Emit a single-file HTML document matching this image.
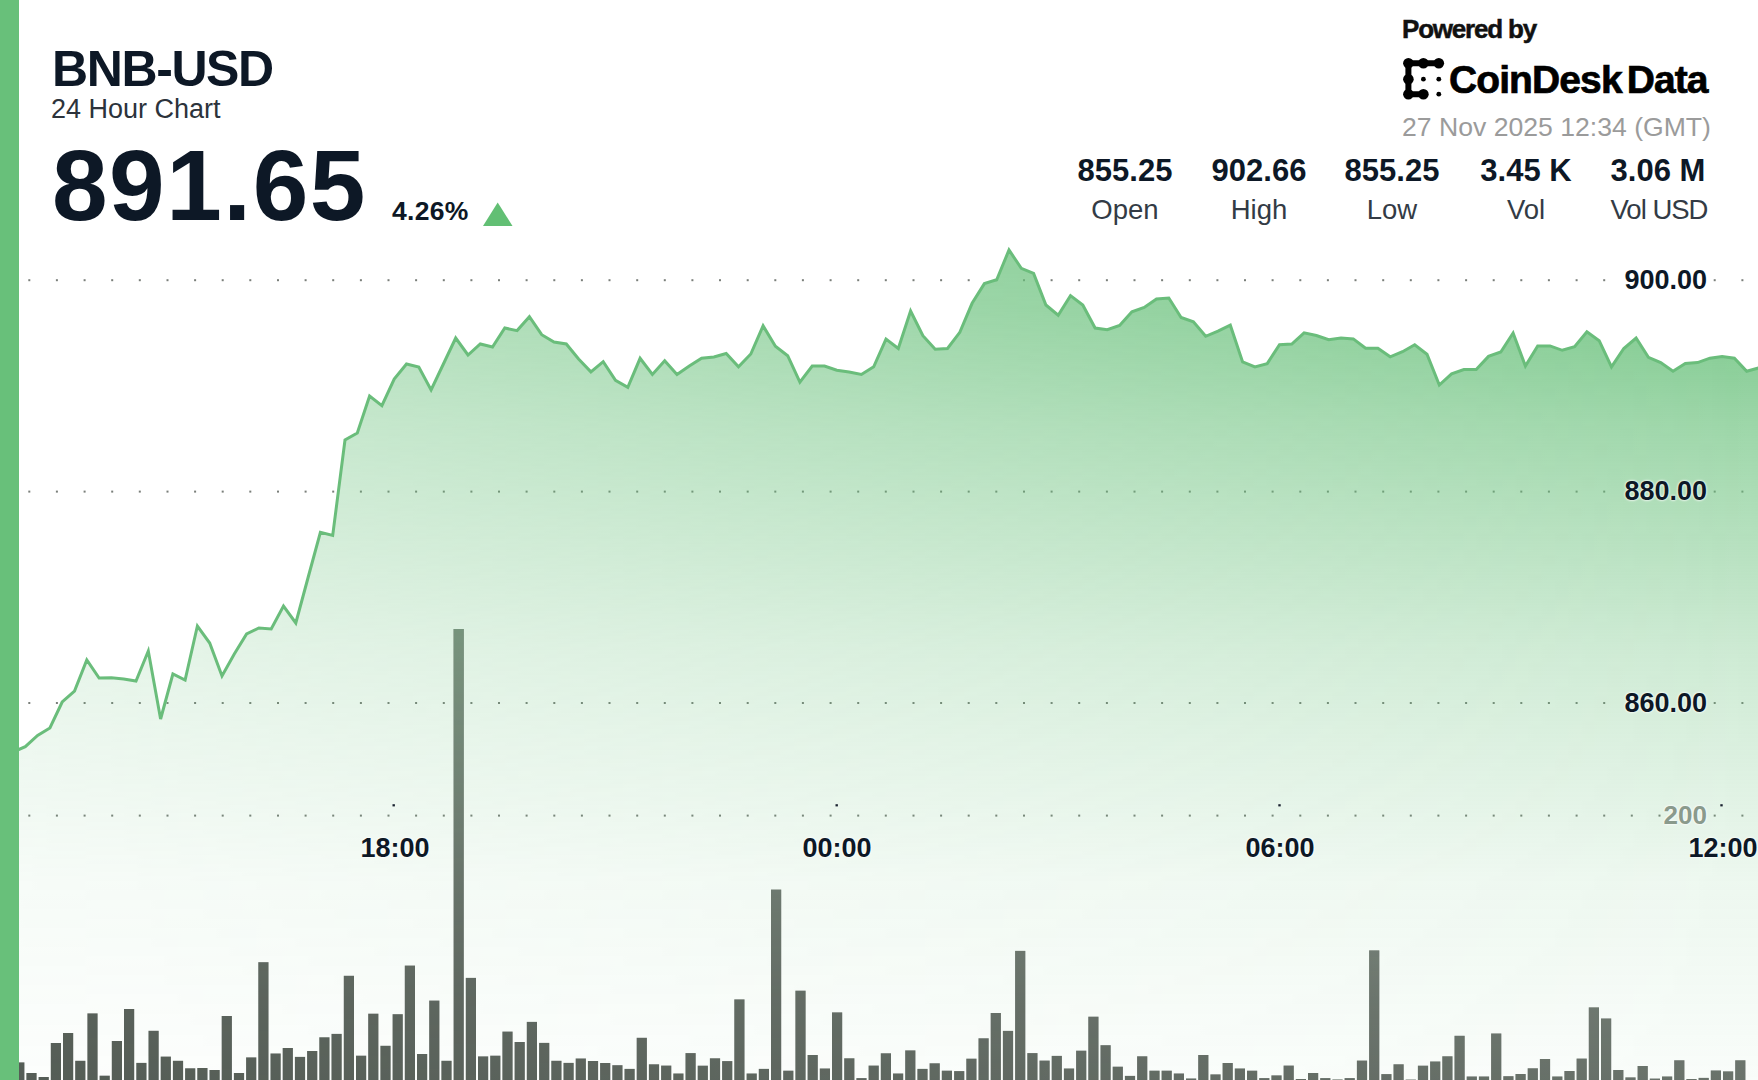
<!DOCTYPE html>
<html><head><meta charset="utf-8">
<style>
html,body{margin:0;padding:0;}
body{width:1758px;height:1080px;overflow:hidden;background:#fff;position:relative;font-family:"Liberation Sans",sans-serif;color:#0d1826;}
.t{position:absolute;white-space:nowrap;line-height:1;}
.b{font-weight:bold;}
#bar{position:absolute;left:0;top:0;width:19px;height:1080px;background:#68c07a;}
svg{position:absolute;left:0;top:0;}
.yl{text-shadow:0 0 2px #fff,0 0 3px #fff;position:absolute;font-weight:bold;font-size:27px;line-height:1;white-space:nowrap;color:#0d1826;text-align:right;}
.xl{text-shadow:0 0 2px #fff,0 0 3px #fff;position:absolute;font-weight:bold;font-size:27px;line-height:1;white-space:nowrap;color:#0d1826;text-align:center;width:100px;}
.st{position:absolute;text-align:center;width:130px;line-height:1;white-space:nowrap;}
.sv{font-weight:bold;font-size:31px;color:#0d1826;}
.sl{font-size:27.5px;color:#333b45;}
</style></head><body>
<svg width="1758" height="1080" viewBox="0 0 1758 1080">
<defs>
<linearGradient id="ag" x1="0" y1="250" x2="0" y2="1080" gradientUnits="userSpaceOnUse">
<stop offset="0" stop-color="#68c07a" stop-opacity="0.92"/>
<stop offset="0.072" stop-color="#68c07a" stop-opacity="0.86"/>
<stop offset="0.217" stop-color="#68c07a" stop-opacity="0.645"/>
<stop offset="0.482" stop-color="#68c07a" stop-opacity="0.335"/>
<stop offset="0.759" stop-color="#68c07a" stop-opacity="0.12"/>
<stop offset="0.904" stop-color="#68c07a" stop-opacity="0.07"/>
<stop offset="1" stop-color="#68c07a" stop-opacity="0.04"/>
</linearGradient>
<linearGradient id="hg" x1="18" y1="0" x2="1758" y2="0" gradientUnits="userSpaceOnUse">
<stop offset="0" stop-color="#fff" stop-opacity="0.48"/>
<stop offset="1" stop-color="#fff" stop-opacity="1"/>
</linearGradient>
<mask id="hm" maskUnits="userSpaceOnUse" x="0" y="0" width="1758" height="1080"><rect x="0" y="0" width="1758" height="1080" fill="url(#hg)"/></mask>
<linearGradient id="veil" x1="0" y1="620" x2="0" y2="1080" gradientUnits="userSpaceOnUse">
<stop offset="0" stop-color="#aadcb4" stop-opacity="0.85"/>
<stop offset="0.609" stop-color="#d7eedc" stop-opacity="0.41"/>
<stop offset="0.826" stop-color="#e2f2e5" stop-opacity="0.30"/>
<stop offset="1" stop-color="#e6f5e8" stop-opacity="0.25"/>
</linearGradient>
<clipPath id="barclip"><rect x="14.2" y="1062.4" width="10.2" height="17.6"/><rect x="26.4" y="1073.0" width="10.2" height="7.0"/><rect x="38.6" y="1077.0" width="10.2" height="3.0"/><rect x="50.8" y="1043.0" width="10.2" height="37.0"/><rect x="63.0" y="1033.0" width="10.2" height="47.0"/><rect x="75.2" y="1060.8" width="10.2" height="19.2"/><rect x="87.4" y="1013.4" width="10.2" height="66.6"/><rect x="99.6" y="1075.7" width="10.2" height="4.3"/><rect x="111.8" y="1041.0" width="10.2" height="39.0"/><rect x="124.0" y="1009.0" width="10.2" height="71.0"/><rect x="136.3" y="1062.9" width="10.2" height="17.1"/><rect x="148.5" y="1030.8" width="10.2" height="49.2"/><rect x="160.7" y="1056.6" width="10.2" height="23.4"/><rect x="172.9" y="1060.8" width="10.2" height="19.2"/><rect x="185.1" y="1068.3" width="10.2" height="11.7"/><rect x="197.3" y="1068.0" width="10.2" height="12.0"/><rect x="209.5" y="1070.0" width="10.2" height="10.0"/><rect x="221.7" y="1016.0" width="10.2" height="64.0"/><rect x="233.9" y="1073.0" width="10.2" height="7.0"/><rect x="246.1" y="1057.4" width="10.2" height="22.6"/><rect x="258.3" y="962.2" width="10.2" height="117.8"/><rect x="270.5" y="1053.5" width="10.2" height="26.5"/><rect x="282.7" y="1048.0" width="10.2" height="32.0"/><rect x="294.9" y="1056.9" width="10.2" height="23.1"/><rect x="307.1" y="1051.0" width="10.2" height="29.0"/><rect x="319.3" y="1037.3" width="10.2" height="42.7"/><rect x="331.5" y="1033.9" width="10.2" height="46.1"/><rect x="343.8" y="975.8" width="10.2" height="104.2"/><rect x="356.0" y="1055.7" width="10.2" height="24.3"/><rect x="368.2" y="1013.7" width="10.2" height="66.3"/><rect x="380.4" y="1045.8" width="10.2" height="34.2"/><rect x="392.6" y="1014.2" width="10.2" height="65.8"/><rect x="404.8" y="965.6" width="10.2" height="114.4"/><rect x="417.0" y="1054.0" width="10.2" height="26.0"/><rect x="429.2" y="1000.6" width="10.2" height="79.4"/><rect x="441.4" y="1060.8" width="10.2" height="19.2"/><rect x="453.6" y="629.0" width="10.2" height="451.0"/><rect x="465.8" y="977.9" width="10.2" height="102.1"/><rect x="478.0" y="1056.4" width="10.2" height="23.6"/><rect x="490.2" y="1055.7" width="10.2" height="24.3"/><rect x="502.4" y="1031.6" width="10.2" height="48.4"/><rect x="514.6" y="1042.0" width="10.2" height="38.0"/><rect x="526.8" y="1021.9" width="10.2" height="58.1"/><rect x="539.1" y="1042.9" width="10.2" height="37.1"/><rect x="551.3" y="1060.8" width="10.2" height="19.2"/><rect x="563.5" y="1062.9" width="10.2" height="17.1"/><rect x="575.7" y="1058.5" width="10.2" height="21.5"/><rect x="587.9" y="1061.0" width="10.2" height="19.0"/><rect x="600.1" y="1063.0" width="10.2" height="17.0"/><rect x="612.3" y="1065.2" width="10.2" height="14.8"/><rect x="624.5" y="1068.9" width="10.2" height="11.1"/><rect x="636.7" y="1037.8" width="10.2" height="42.2"/><rect x="648.9" y="1064.3" width="10.2" height="15.7"/><rect x="661.1" y="1065.6" width="10.2" height="14.4"/><rect x="673.3" y="1073.5" width="10.2" height="6.5"/><rect x="685.5" y="1053.1" width="10.2" height="26.9"/><rect x="697.7" y="1065.7" width="10.2" height="14.3"/><rect x="709.9" y="1058.3" width="10.2" height="21.7"/><rect x="722.1" y="1061.1" width="10.2" height="18.9"/><rect x="734.3" y="999.4" width="10.2" height="80.6"/><rect x="746.6" y="1073.5" width="10.2" height="6.5"/><rect x="758.8" y="1068.9" width="10.2" height="11.1"/><rect x="771.0" y="889.6" width="10.2" height="190.4"/><rect x="783.2" y="1070.7" width="10.2" height="9.3"/><rect x="795.4" y="990.7" width="10.2" height="89.3"/><rect x="807.6" y="1055.0" width="10.2" height="25.0"/><rect x="819.8" y="1068.5" width="10.2" height="11.5"/><rect x="832.0" y="1012.4" width="10.2" height="67.6"/><rect x="844.2" y="1058.3" width="10.2" height="21.7"/><rect x="856.4" y="1078.1" width="10.2" height="1.9"/><rect x="868.6" y="1065.6" width="10.2" height="14.4"/><rect x="880.8" y="1053.3" width="10.2" height="26.7"/><rect x="893.0" y="1073.5" width="10.2" height="6.5"/><rect x="905.2" y="1050.4" width="10.2" height="29.6"/><rect x="917.4" y="1068.9" width="10.2" height="11.1"/><rect x="929.6" y="1063.3" width="10.2" height="16.7"/><rect x="941.8" y="1070.7" width="10.2" height="9.3"/><rect x="954.1" y="1071.1" width="10.2" height="8.9"/><rect x="966.3" y="1058.7" width="10.2" height="21.3"/><rect x="978.5" y="1038.3" width="10.2" height="41.7"/><rect x="990.7" y="1013.0" width="10.2" height="67.0"/><rect x="1002.9" y="1030.9" width="10.2" height="49.1"/><rect x="1015.1" y="950.9" width="10.2" height="129.1"/><rect x="1027.3" y="1053.1" width="10.2" height="26.9"/><rect x="1039.5" y="1060.6" width="10.2" height="19.4"/><rect x="1051.7" y="1055.9" width="10.2" height="24.1"/><rect x="1063.9" y="1068.5" width="10.2" height="11.5"/><rect x="1076.1" y="1050.7" width="10.2" height="29.3"/><rect x="1088.3" y="1016.7" width="10.2" height="63.3"/><rect x="1100.5" y="1045.2" width="10.2" height="34.8"/><rect x="1112.7" y="1066.7" width="10.2" height="13.3"/><rect x="1124.9" y="1075.9" width="10.2" height="4.1"/><rect x="1137.1" y="1056.3" width="10.2" height="23.7"/><rect x="1149.4" y="1070.7" width="10.2" height="9.3"/><rect x="1161.6" y="1070.7" width="10.2" height="9.3"/><rect x="1173.8" y="1073.5" width="10.2" height="6.5"/><rect x="1186.0" y="1078.5" width="10.2" height="1.5"/><rect x="1198.2" y="1055.0" width="10.2" height="25.0"/><rect x="1210.4" y="1074.4" width="10.2" height="5.6"/><rect x="1222.6" y="1063.0" width="10.2" height="17.0"/><rect x="1234.8" y="1068.5" width="10.2" height="11.5"/><rect x="1247.0" y="1070.7" width="10.2" height="9.3"/><rect x="1259.2" y="1078.1" width="10.2" height="1.9"/><rect x="1271.4" y="1075.4" width="10.2" height="4.6"/><rect x="1283.6" y="1065.6" width="10.2" height="14.4"/><rect x="1295.8" y="1079.0" width="10.2" height="1.0"/><rect x="1308.0" y="1073.0" width="10.2" height="7.0"/><rect x="1320.2" y="1078.1" width="10.2" height="1.9"/><rect x="1332.4" y="1079.5" width="10.2" height="0.5"/><rect x="1344.6" y="1078.1" width="10.2" height="1.9"/><rect x="1356.9" y="1060.6" width="10.2" height="19.4"/><rect x="1369.1" y="950.4" width="10.2" height="129.6"/><rect x="1381.3" y="1074.1" width="10.2" height="5.9"/><rect x="1393.5" y="1064.3" width="10.2" height="15.7"/><rect x="1405.7" y="1079.6" width="10.2" height="0.4"/><rect x="1417.9" y="1065.7" width="10.2" height="14.3"/><rect x="1430.1" y="1061.5" width="10.2" height="18.5"/><rect x="1442.3" y="1056.3" width="10.2" height="23.7"/><rect x="1454.5" y="1035.8" width="10.2" height="44.2"/><rect x="1466.7" y="1076.5" width="10.2" height="3.5"/><rect x="1478.9" y="1076.5" width="10.2" height="3.5"/><rect x="1491.1" y="1033.5" width="10.2" height="46.5"/><rect x="1503.3" y="1076.2" width="10.2" height="3.8"/><rect x="1515.5" y="1074.0" width="10.2" height="6.0"/><rect x="1527.7" y="1068.3" width="10.2" height="11.7"/><rect x="1539.9" y="1059.0" width="10.2" height="21.0"/><rect x="1552.2" y="1076.5" width="10.2" height="3.5"/><rect x="1564.4" y="1071.0" width="10.2" height="9.0"/><rect x="1576.6" y="1058.6" width="10.2" height="21.4"/><rect x="1588.8" y="1007.4" width="10.2" height="72.6"/><rect x="1601.0" y="1018.5" width="10.2" height="61.5"/><rect x="1613.2" y="1070.0" width="10.2" height="10.0"/><rect x="1625.4" y="1077.4" width="10.2" height="2.6"/><rect x="1637.6" y="1066.0" width="10.2" height="14.0"/><rect x="1649.8" y="1078.6" width="10.2" height="1.4"/><rect x="1662.0" y="1076.5" width="10.2" height="3.5"/><rect x="1674.2" y="1060.3" width="10.2" height="19.7"/><rect x="1686.4" y="1079.0" width="10.2" height="1.0"/><rect x="1698.6" y="1077.9" width="10.2" height="2.1"/><rect x="1710.8" y="1070.5" width="10.2" height="9.5"/><rect x="1723.0" y="1071.4" width="10.2" height="8.6"/><rect x="1735.2" y="1060.3" width="10.2" height="19.7"/></clipPath>
</defs>
<g fill="#7a7f7a"><rect x="28.3" y="279.2" width="2" height="2"/><rect x="55.9" y="279.2" width="2" height="2"/><rect x="83.6" y="279.2" width="2" height="2"/><rect x="111.2" y="279.2" width="2" height="2"/><rect x="138.8" y="279.2" width="2" height="2"/><rect x="166.5" y="279.2" width="2" height="2"/><rect x="194.1" y="279.2" width="2" height="2"/><rect x="221.7" y="279.2" width="2" height="2"/><rect x="249.3" y="279.2" width="2" height="2"/><rect x="277.0" y="279.2" width="2" height="2"/><rect x="304.6" y="279.2" width="2" height="2"/><rect x="332.2" y="279.2" width="2" height="2"/><rect x="359.9" y="279.2" width="2" height="2"/><rect x="387.5" y="279.2" width="2" height="2"/><rect x="415.1" y="279.2" width="2" height="2"/><rect x="442.8" y="279.2" width="2" height="2"/><rect x="470.4" y="279.2" width="2" height="2"/><rect x="498.0" y="279.2" width="2" height="2"/><rect x="525.6" y="279.2" width="2" height="2"/><rect x="553.3" y="279.2" width="2" height="2"/><rect x="580.9" y="279.2" width="2" height="2"/><rect x="608.5" y="279.2" width="2" height="2"/><rect x="636.2" y="279.2" width="2" height="2"/><rect x="663.8" y="279.2" width="2" height="2"/><rect x="691.4" y="279.2" width="2" height="2"/><rect x="719.0" y="279.2" width="2" height="2"/><rect x="746.7" y="279.2" width="2" height="2"/><rect x="774.3" y="279.2" width="2" height="2"/><rect x="801.9" y="279.2" width="2" height="2"/><rect x="829.6" y="279.2" width="2" height="2"/><rect x="857.2" y="279.2" width="2" height="2"/><rect x="884.8" y="279.2" width="2" height="2"/><rect x="912.5" y="279.2" width="2" height="2"/><rect x="940.1" y="279.2" width="2" height="2"/><rect x="967.7" y="279.2" width="2" height="2"/><rect x="995.3" y="279.2" width="2" height="2"/><rect x="1023.0" y="279.2" width="2" height="2"/><rect x="1050.6" y="279.2" width="2" height="2"/><rect x="1078.2" y="279.2" width="2" height="2"/><rect x="1105.9" y="279.2" width="2" height="2"/><rect x="1133.5" y="279.2" width="2" height="2"/><rect x="1161.1" y="279.2" width="2" height="2"/><rect x="1188.8" y="279.2" width="2" height="2"/><rect x="1216.4" y="279.2" width="2" height="2"/><rect x="1244.0" y="279.2" width="2" height="2"/><rect x="1271.6" y="279.2" width="2" height="2"/><rect x="1299.3" y="279.2" width="2" height="2"/><rect x="1326.9" y="279.2" width="2" height="2"/><rect x="1354.5" y="279.2" width="2" height="2"/><rect x="1382.2" y="279.2" width="2" height="2"/><rect x="1409.8" y="279.2" width="2" height="2"/><rect x="1437.4" y="279.2" width="2" height="2"/><rect x="1465.1" y="279.2" width="2" height="2"/><rect x="1492.7" y="279.2" width="2" height="2"/><rect x="1520.3" y="279.2" width="2" height="2"/><rect x="1547.9" y="279.2" width="2" height="2"/><rect x="1575.6" y="279.2" width="2" height="2"/><rect x="1603.2" y="279.2" width="2" height="2"/><rect x="1713.7" y="279.2" width="2" height="2"/><rect x="1741.4" y="279.2" width="2" height="2"/><rect x="28.3" y="490.6" width="2" height="2"/><rect x="55.9" y="490.6" width="2" height="2"/><rect x="83.6" y="490.6" width="2" height="2"/><rect x="111.2" y="490.6" width="2" height="2"/><rect x="138.8" y="490.6" width="2" height="2"/><rect x="166.5" y="490.6" width="2" height="2"/><rect x="194.1" y="490.6" width="2" height="2"/><rect x="221.7" y="490.6" width="2" height="2"/><rect x="249.3" y="490.6" width="2" height="2"/><rect x="277.0" y="490.6" width="2" height="2"/><rect x="304.6" y="490.6" width="2" height="2"/><rect x="332.2" y="490.6" width="2" height="2"/><rect x="359.9" y="490.6" width="2" height="2"/><rect x="387.5" y="490.6" width="2" height="2"/><rect x="415.1" y="490.6" width="2" height="2"/><rect x="442.8" y="490.6" width="2" height="2"/><rect x="470.4" y="490.6" width="2" height="2"/><rect x="498.0" y="490.6" width="2" height="2"/><rect x="525.6" y="490.6" width="2" height="2"/><rect x="553.3" y="490.6" width="2" height="2"/><rect x="580.9" y="490.6" width="2" height="2"/><rect x="608.5" y="490.6" width="2" height="2"/><rect x="636.2" y="490.6" width="2" height="2"/><rect x="663.8" y="490.6" width="2" height="2"/><rect x="691.4" y="490.6" width="2" height="2"/><rect x="719.0" y="490.6" width="2" height="2"/><rect x="746.7" y="490.6" width="2" height="2"/><rect x="774.3" y="490.6" width="2" height="2"/><rect x="801.9" y="490.6" width="2" height="2"/><rect x="829.6" y="490.6" width="2" height="2"/><rect x="857.2" y="490.6" width="2" height="2"/><rect x="884.8" y="490.6" width="2" height="2"/><rect x="912.5" y="490.6" width="2" height="2"/><rect x="940.1" y="490.6" width="2" height="2"/><rect x="967.7" y="490.6" width="2" height="2"/><rect x="995.3" y="490.6" width="2" height="2"/><rect x="1023.0" y="490.6" width="2" height="2"/><rect x="1050.6" y="490.6" width="2" height="2"/><rect x="1078.2" y="490.6" width="2" height="2"/><rect x="1105.9" y="490.6" width="2" height="2"/><rect x="1133.5" y="490.6" width="2" height="2"/><rect x="1161.1" y="490.6" width="2" height="2"/><rect x="1188.8" y="490.6" width="2" height="2"/><rect x="1216.4" y="490.6" width="2" height="2"/><rect x="1244.0" y="490.6" width="2" height="2"/><rect x="1271.6" y="490.6" width="2" height="2"/><rect x="1299.3" y="490.6" width="2" height="2"/><rect x="1326.9" y="490.6" width="2" height="2"/><rect x="1354.5" y="490.6" width="2" height="2"/><rect x="1382.2" y="490.6" width="2" height="2"/><rect x="1409.8" y="490.6" width="2" height="2"/><rect x="1437.4" y="490.6" width="2" height="2"/><rect x="1465.1" y="490.6" width="2" height="2"/><rect x="1492.7" y="490.6" width="2" height="2"/><rect x="1520.3" y="490.6" width="2" height="2"/><rect x="1547.9" y="490.6" width="2" height="2"/><rect x="1575.6" y="490.6" width="2" height="2"/><rect x="1603.2" y="490.6" width="2" height="2"/><rect x="1713.7" y="490.6" width="2" height="2"/><rect x="1741.4" y="490.6" width="2" height="2"/><rect x="28.3" y="702.0" width="2" height="2"/><rect x="55.9" y="702.0" width="2" height="2"/><rect x="83.6" y="702.0" width="2" height="2"/><rect x="111.2" y="702.0" width="2" height="2"/><rect x="138.8" y="702.0" width="2" height="2"/><rect x="166.5" y="702.0" width="2" height="2"/><rect x="194.1" y="702.0" width="2" height="2"/><rect x="221.7" y="702.0" width="2" height="2"/><rect x="249.3" y="702.0" width="2" height="2"/><rect x="277.0" y="702.0" width="2" height="2"/><rect x="304.6" y="702.0" width="2" height="2"/><rect x="332.2" y="702.0" width="2" height="2"/><rect x="359.9" y="702.0" width="2" height="2"/><rect x="387.5" y="702.0" width="2" height="2"/><rect x="415.1" y="702.0" width="2" height="2"/><rect x="442.8" y="702.0" width="2" height="2"/><rect x="470.4" y="702.0" width="2" height="2"/><rect x="498.0" y="702.0" width="2" height="2"/><rect x="525.6" y="702.0" width="2" height="2"/><rect x="553.3" y="702.0" width="2" height="2"/><rect x="580.9" y="702.0" width="2" height="2"/><rect x="608.5" y="702.0" width="2" height="2"/><rect x="636.2" y="702.0" width="2" height="2"/><rect x="663.8" y="702.0" width="2" height="2"/><rect x="691.4" y="702.0" width="2" height="2"/><rect x="719.0" y="702.0" width="2" height="2"/><rect x="746.7" y="702.0" width="2" height="2"/><rect x="774.3" y="702.0" width="2" height="2"/><rect x="801.9" y="702.0" width="2" height="2"/><rect x="829.6" y="702.0" width="2" height="2"/><rect x="857.2" y="702.0" width="2" height="2"/><rect x="884.8" y="702.0" width="2" height="2"/><rect x="912.5" y="702.0" width="2" height="2"/><rect x="940.1" y="702.0" width="2" height="2"/><rect x="967.7" y="702.0" width="2" height="2"/><rect x="995.3" y="702.0" width="2" height="2"/><rect x="1023.0" y="702.0" width="2" height="2"/><rect x="1050.6" y="702.0" width="2" height="2"/><rect x="1078.2" y="702.0" width="2" height="2"/><rect x="1105.9" y="702.0" width="2" height="2"/><rect x="1133.5" y="702.0" width="2" height="2"/><rect x="1161.1" y="702.0" width="2" height="2"/><rect x="1188.8" y="702.0" width="2" height="2"/><rect x="1216.4" y="702.0" width="2" height="2"/><rect x="1244.0" y="702.0" width="2" height="2"/><rect x="1271.6" y="702.0" width="2" height="2"/><rect x="1299.3" y="702.0" width="2" height="2"/><rect x="1326.9" y="702.0" width="2" height="2"/><rect x="1354.5" y="702.0" width="2" height="2"/><rect x="1382.2" y="702.0" width="2" height="2"/><rect x="1409.8" y="702.0" width="2" height="2"/><rect x="1437.4" y="702.0" width="2" height="2"/><rect x="1465.1" y="702.0" width="2" height="2"/><rect x="1492.7" y="702.0" width="2" height="2"/><rect x="1520.3" y="702.0" width="2" height="2"/><rect x="1547.9" y="702.0" width="2" height="2"/><rect x="1575.6" y="702.0" width="2" height="2"/><rect x="1603.2" y="702.0" width="2" height="2"/><rect x="1713.7" y="702.0" width="2" height="2"/><rect x="1741.4" y="702.0" width="2" height="2"/><rect x="28.3" y="814.6" width="2" height="2"/><rect x="55.9" y="814.6" width="2" height="2"/><rect x="83.6" y="814.6" width="2" height="2"/><rect x="111.2" y="814.6" width="2" height="2"/><rect x="138.8" y="814.6" width="2" height="2"/><rect x="166.5" y="814.6" width="2" height="2"/><rect x="194.1" y="814.6" width="2" height="2"/><rect x="221.7" y="814.6" width="2" height="2"/><rect x="249.3" y="814.6" width="2" height="2"/><rect x="277.0" y="814.6" width="2" height="2"/><rect x="304.6" y="814.6" width="2" height="2"/><rect x="332.2" y="814.6" width="2" height="2"/><rect x="359.9" y="814.6" width="2" height="2"/><rect x="387.5" y="814.6" width="2" height="2"/><rect x="415.1" y="814.6" width="2" height="2"/><rect x="442.8" y="814.6" width="2" height="2"/><rect x="470.4" y="814.6" width="2" height="2"/><rect x="498.0" y="814.6" width="2" height="2"/><rect x="525.6" y="814.6" width="2" height="2"/><rect x="553.3" y="814.6" width="2" height="2"/><rect x="580.9" y="814.6" width="2" height="2"/><rect x="608.5" y="814.6" width="2" height="2"/><rect x="636.2" y="814.6" width="2" height="2"/><rect x="663.8" y="814.6" width="2" height="2"/><rect x="691.4" y="814.6" width="2" height="2"/><rect x="719.0" y="814.6" width="2" height="2"/><rect x="746.7" y="814.6" width="2" height="2"/><rect x="774.3" y="814.6" width="2" height="2"/><rect x="801.9" y="814.6" width="2" height="2"/><rect x="829.6" y="814.6" width="2" height="2"/><rect x="857.2" y="814.6" width="2" height="2"/><rect x="884.8" y="814.6" width="2" height="2"/><rect x="912.5" y="814.6" width="2" height="2"/><rect x="940.1" y="814.6" width="2" height="2"/><rect x="967.7" y="814.6" width="2" height="2"/><rect x="995.3" y="814.6" width="2" height="2"/><rect x="1023.0" y="814.6" width="2" height="2"/><rect x="1050.6" y="814.6" width="2" height="2"/><rect x="1078.2" y="814.6" width="2" height="2"/><rect x="1105.9" y="814.6" width="2" height="2"/><rect x="1133.5" y="814.6" width="2" height="2"/><rect x="1161.1" y="814.6" width="2" height="2"/><rect x="1188.8" y="814.6" width="2" height="2"/><rect x="1216.4" y="814.6" width="2" height="2"/><rect x="1244.0" y="814.6" width="2" height="2"/><rect x="1271.6" y="814.6" width="2" height="2"/><rect x="1299.3" y="814.6" width="2" height="2"/><rect x="1326.9" y="814.6" width="2" height="2"/><rect x="1354.5" y="814.6" width="2" height="2"/><rect x="1382.2" y="814.6" width="2" height="2"/><rect x="1409.8" y="814.6" width="2" height="2"/><rect x="1437.4" y="814.6" width="2" height="2"/><rect x="1465.1" y="814.6" width="2" height="2"/><rect x="1492.7" y="814.6" width="2" height="2"/><rect x="1520.3" y="814.6" width="2" height="2"/><rect x="1547.9" y="814.6" width="2" height="2"/><rect x="1575.6" y="814.6" width="2" height="2"/><rect x="1603.2" y="814.6" width="2" height="2"/><rect x="1630.8" y="814.6" width="2" height="2"/><rect x="1658.5" y="814.6" width="2" height="2"/><rect x="1713.7" y="814.6" width="2" height="2"/><rect x="1741.4" y="814.6" width="2" height="2"/></g>
<path d="M13.0,752.0 L25.3,746.7 L37.6,735.5 L49.9,728.0 L62.2,702.0 L74.5,691.0 L86.8,660.0 L99.1,678.0 L111.4,677.8 L123.7,679.0 L136.0,681.0 L148.3,651.0 L160.6,719.0 L172.9,674.0 L185.1,680.0 L197.4,626.0 L209.7,643.0 L222.0,676.0 L234.3,654.0 L246.6,634.0 L258.9,628.0 L271.2,629.0 L283.5,606.0 L295.8,623.0 L308.1,577.5 L320.4,532.4 L332.7,535.5 L345.0,440.0 L357.3,433.0 L369.6,396.0 L381.9,405.6 L394.2,379.0 L406.5,364.0 L418.8,367.0 L431.1,390.0 L443.4,364.0 L455.7,338.0 L468.0,355.0 L480.3,344.0 L492.5,347.0 L504.8,328.0 L517.1,330.6 L529.4,316.7 L541.7,334.7 L554.0,342.0 L566.3,344.0 L578.6,359.0 L590.9,371.9 L603.2,361.7 L615.5,380.4 L627.8,387.3 L640.1,358.3 L652.4,374.5 L664.7,360.8 L677.0,374.5 L689.3,366.0 L701.6,358.3 L713.9,356.9 L726.2,353.5 L738.5,366.8 L750.8,354.0 L763.1,325.8 L775.4,346.3 L787.7,355.7 L799.9,382.2 L812.2,366.0 L824.5,366.0 L836.8,370.2 L849.1,372.0 L861.4,374.5 L873.7,366.8 L886.0,339.1 L898.3,348.5 L910.6,311.0 L922.9,335.7 L935.2,349.3 L947.5,348.5 L959.8,332.3 L972.1,303.3 L984.4,283.6 L996.7,279.7 L1009.0,250.0 L1021.3,268.3 L1033.6,273.4 L1045.9,305.0 L1058.2,315.2 L1070.5,295.6 L1082.8,305.0 L1095.1,328.0 L1107.3,329.7 L1119.6,325.4 L1131.9,311.8 L1144.2,307.5 L1156.5,299.0 L1168.8,298.0 L1181.1,317.5 L1193.4,321.8 L1205.7,336.3 L1218.0,331.2 L1230.3,325.2 L1242.6,361.9 L1254.9,367.0 L1267.2,363.6 L1279.5,344.8 L1291.8,344.0 L1304.1,332.9 L1316.4,335.5 L1328.7,339.7 L1341.0,338.0 L1353.3,338.9 L1365.6,348.3 L1377.9,348.3 L1390.2,356.8 L1402.5,351.7 L1414.7,344.8 L1427.0,354.2 L1439.3,385.0 L1451.6,373.9 L1463.9,369.6 L1476.2,369.6 L1488.5,356.4 L1500.8,352.0 L1513.1,333.0 L1525.4,366.0 L1537.7,345.9 L1550.0,345.9 L1562.3,350.3 L1574.6,346.8 L1586.9,331.9 L1599.2,340.7 L1611.5,366.9 L1623.8,348.5 L1636.1,338.0 L1648.4,357.3 L1660.7,362.6 L1673.0,371.3 L1685.3,363.4 L1697.6,362.6 L1709.9,358.2 L1722.1,356.4 L1734.4,358.2 L1746.7,371.3 L1759.0,367.8 L1759.0,1080 L13.0,1080 Z" fill="url(#ag)" stroke="none" mask="url(#hm)"/>
<g fill="#414842"><rect x="14.2" y="1062.4" width="10.2" height="17.6"/><rect x="26.4" y="1073.0" width="10.2" height="7.0"/><rect x="38.6" y="1077.0" width="10.2" height="3.0"/><rect x="50.8" y="1043.0" width="10.2" height="37.0"/><rect x="63.0" y="1033.0" width="10.2" height="47.0"/><rect x="75.2" y="1060.8" width="10.2" height="19.2"/><rect x="87.4" y="1013.4" width="10.2" height="66.6"/><rect x="99.6" y="1075.7" width="10.2" height="4.3"/><rect x="111.8" y="1041.0" width="10.2" height="39.0"/><rect x="124.0" y="1009.0" width="10.2" height="71.0"/><rect x="136.3" y="1062.9" width="10.2" height="17.1"/><rect x="148.5" y="1030.8" width="10.2" height="49.2"/><rect x="160.7" y="1056.6" width="10.2" height="23.4"/><rect x="172.9" y="1060.8" width="10.2" height="19.2"/><rect x="185.1" y="1068.3" width="10.2" height="11.7"/><rect x="197.3" y="1068.0" width="10.2" height="12.0"/><rect x="209.5" y="1070.0" width="10.2" height="10.0"/><rect x="221.7" y="1016.0" width="10.2" height="64.0"/><rect x="233.9" y="1073.0" width="10.2" height="7.0"/><rect x="246.1" y="1057.4" width="10.2" height="22.6"/><rect x="258.3" y="962.2" width="10.2" height="117.8"/><rect x="270.5" y="1053.5" width="10.2" height="26.5"/><rect x="282.7" y="1048.0" width="10.2" height="32.0"/><rect x="294.9" y="1056.9" width="10.2" height="23.1"/><rect x="307.1" y="1051.0" width="10.2" height="29.0"/><rect x="319.3" y="1037.3" width="10.2" height="42.7"/><rect x="331.5" y="1033.9" width="10.2" height="46.1"/><rect x="343.8" y="975.8" width="10.2" height="104.2"/><rect x="356.0" y="1055.7" width="10.2" height="24.3"/><rect x="368.2" y="1013.7" width="10.2" height="66.3"/><rect x="380.4" y="1045.8" width="10.2" height="34.2"/><rect x="392.6" y="1014.2" width="10.2" height="65.8"/><rect x="404.8" y="965.6" width="10.2" height="114.4"/><rect x="417.0" y="1054.0" width="10.2" height="26.0"/><rect x="429.2" y="1000.6" width="10.2" height="79.4"/><rect x="441.4" y="1060.8" width="10.2" height="19.2"/><rect x="453.6" y="629.0" width="10.2" height="451.0"/><rect x="465.8" y="977.9" width="10.2" height="102.1"/><rect x="478.0" y="1056.4" width="10.2" height="23.6"/><rect x="490.2" y="1055.7" width="10.2" height="24.3"/><rect x="502.4" y="1031.6" width="10.2" height="48.4"/><rect x="514.6" y="1042.0" width="10.2" height="38.0"/><rect x="526.8" y="1021.9" width="10.2" height="58.1"/><rect x="539.1" y="1042.9" width="10.2" height="37.1"/><rect x="551.3" y="1060.8" width="10.2" height="19.2"/><rect x="563.5" y="1062.9" width="10.2" height="17.1"/><rect x="575.7" y="1058.5" width="10.2" height="21.5"/><rect x="587.9" y="1061.0" width="10.2" height="19.0"/><rect x="600.1" y="1063.0" width="10.2" height="17.0"/><rect x="612.3" y="1065.2" width="10.2" height="14.8"/><rect x="624.5" y="1068.9" width="10.2" height="11.1"/><rect x="636.7" y="1037.8" width="10.2" height="42.2"/><rect x="648.9" y="1064.3" width="10.2" height="15.7"/><rect x="661.1" y="1065.6" width="10.2" height="14.4"/><rect x="673.3" y="1073.5" width="10.2" height="6.5"/><rect x="685.5" y="1053.1" width="10.2" height="26.9"/><rect x="697.7" y="1065.7" width="10.2" height="14.3"/><rect x="709.9" y="1058.3" width="10.2" height="21.7"/><rect x="722.1" y="1061.1" width="10.2" height="18.9"/><rect x="734.3" y="999.4" width="10.2" height="80.6"/><rect x="746.6" y="1073.5" width="10.2" height="6.5"/><rect x="758.8" y="1068.9" width="10.2" height="11.1"/><rect x="771.0" y="889.6" width="10.2" height="190.4"/><rect x="783.2" y="1070.7" width="10.2" height="9.3"/><rect x="795.4" y="990.7" width="10.2" height="89.3"/><rect x="807.6" y="1055.0" width="10.2" height="25.0"/><rect x="819.8" y="1068.5" width="10.2" height="11.5"/><rect x="832.0" y="1012.4" width="10.2" height="67.6"/><rect x="844.2" y="1058.3" width="10.2" height="21.7"/><rect x="856.4" y="1078.1" width="10.2" height="1.9"/><rect x="868.6" y="1065.6" width="10.2" height="14.4"/><rect x="880.8" y="1053.3" width="10.2" height="26.7"/><rect x="893.0" y="1073.5" width="10.2" height="6.5"/><rect x="905.2" y="1050.4" width="10.2" height="29.6"/><rect x="917.4" y="1068.9" width="10.2" height="11.1"/><rect x="929.6" y="1063.3" width="10.2" height="16.7"/><rect x="941.8" y="1070.7" width="10.2" height="9.3"/><rect x="954.1" y="1071.1" width="10.2" height="8.9"/><rect x="966.3" y="1058.7" width="10.2" height="21.3"/><rect x="978.5" y="1038.3" width="10.2" height="41.7"/><rect x="990.7" y="1013.0" width="10.2" height="67.0"/><rect x="1002.9" y="1030.9" width="10.2" height="49.1"/><rect x="1015.1" y="950.9" width="10.2" height="129.1"/><rect x="1027.3" y="1053.1" width="10.2" height="26.9"/><rect x="1039.5" y="1060.6" width="10.2" height="19.4"/><rect x="1051.7" y="1055.9" width="10.2" height="24.1"/><rect x="1063.9" y="1068.5" width="10.2" height="11.5"/><rect x="1076.1" y="1050.7" width="10.2" height="29.3"/><rect x="1088.3" y="1016.7" width="10.2" height="63.3"/><rect x="1100.5" y="1045.2" width="10.2" height="34.8"/><rect x="1112.7" y="1066.7" width="10.2" height="13.3"/><rect x="1124.9" y="1075.9" width="10.2" height="4.1"/><rect x="1137.1" y="1056.3" width="10.2" height="23.7"/><rect x="1149.4" y="1070.7" width="10.2" height="9.3"/><rect x="1161.6" y="1070.7" width="10.2" height="9.3"/><rect x="1173.8" y="1073.5" width="10.2" height="6.5"/><rect x="1186.0" y="1078.5" width="10.2" height="1.5"/><rect x="1198.2" y="1055.0" width="10.2" height="25.0"/><rect x="1210.4" y="1074.4" width="10.2" height="5.6"/><rect x="1222.6" y="1063.0" width="10.2" height="17.0"/><rect x="1234.8" y="1068.5" width="10.2" height="11.5"/><rect x="1247.0" y="1070.7" width="10.2" height="9.3"/><rect x="1259.2" y="1078.1" width="10.2" height="1.9"/><rect x="1271.4" y="1075.4" width="10.2" height="4.6"/><rect x="1283.6" y="1065.6" width="10.2" height="14.4"/><rect x="1295.8" y="1079.0" width="10.2" height="1.0"/><rect x="1308.0" y="1073.0" width="10.2" height="7.0"/><rect x="1320.2" y="1078.1" width="10.2" height="1.9"/><rect x="1332.4" y="1079.5" width="10.2" height="0.5"/><rect x="1344.6" y="1078.1" width="10.2" height="1.9"/><rect x="1356.9" y="1060.6" width="10.2" height="19.4"/><rect x="1369.1" y="950.4" width="10.2" height="129.6"/><rect x="1381.3" y="1074.1" width="10.2" height="5.9"/><rect x="1393.5" y="1064.3" width="10.2" height="15.7"/><rect x="1405.7" y="1079.6" width="10.2" height="0.4"/><rect x="1417.9" y="1065.7" width="10.2" height="14.3"/><rect x="1430.1" y="1061.5" width="10.2" height="18.5"/><rect x="1442.3" y="1056.3" width="10.2" height="23.7"/><rect x="1454.5" y="1035.8" width="10.2" height="44.2"/><rect x="1466.7" y="1076.5" width="10.2" height="3.5"/><rect x="1478.9" y="1076.5" width="10.2" height="3.5"/><rect x="1491.1" y="1033.5" width="10.2" height="46.5"/><rect x="1503.3" y="1076.2" width="10.2" height="3.8"/><rect x="1515.5" y="1074.0" width="10.2" height="6.0"/><rect x="1527.7" y="1068.3" width="10.2" height="11.7"/><rect x="1539.9" y="1059.0" width="10.2" height="21.0"/><rect x="1552.2" y="1076.5" width="10.2" height="3.5"/><rect x="1564.4" y="1071.0" width="10.2" height="9.0"/><rect x="1576.6" y="1058.6" width="10.2" height="21.4"/><rect x="1588.8" y="1007.4" width="10.2" height="72.6"/><rect x="1601.0" y="1018.5" width="10.2" height="61.5"/><rect x="1613.2" y="1070.0" width="10.2" height="10.0"/><rect x="1625.4" y="1077.4" width="10.2" height="2.6"/><rect x="1637.6" y="1066.0" width="10.2" height="14.0"/><rect x="1649.8" y="1078.6" width="10.2" height="1.4"/><rect x="1662.0" y="1076.5" width="10.2" height="3.5"/><rect x="1674.2" y="1060.3" width="10.2" height="19.7"/><rect x="1686.4" y="1079.0" width="10.2" height="1.0"/><rect x="1698.6" y="1077.9" width="10.2" height="2.1"/><rect x="1710.8" y="1070.5" width="10.2" height="9.5"/><rect x="1723.0" y="1071.4" width="10.2" height="8.6"/><rect x="1735.2" y="1060.3" width="10.2" height="19.7"/></g>
<rect x="0" y="600" width="1758" height="480" fill="url(#veil)" mask="url(#hm)" clip-path="url(#barclip)"/>
<path d="M13.0,752.0 L25.3,746.7 L37.6,735.5 L49.9,728.0 L62.2,702.0 L74.5,691.0 L86.8,660.0 L99.1,678.0 L111.4,677.8 L123.7,679.0 L136.0,681.0 L148.3,651.0 L160.6,719.0 L172.9,674.0 L185.1,680.0 L197.4,626.0 L209.7,643.0 L222.0,676.0 L234.3,654.0 L246.6,634.0 L258.9,628.0 L271.2,629.0 L283.5,606.0 L295.8,623.0 L308.1,577.5 L320.4,532.4 L332.7,535.5 L345.0,440.0 L357.3,433.0 L369.6,396.0 L381.9,405.6 L394.2,379.0 L406.5,364.0 L418.8,367.0 L431.1,390.0 L443.4,364.0 L455.7,338.0 L468.0,355.0 L480.3,344.0 L492.5,347.0 L504.8,328.0 L517.1,330.6 L529.4,316.7 L541.7,334.7 L554.0,342.0 L566.3,344.0 L578.6,359.0 L590.9,371.9 L603.2,361.7 L615.5,380.4 L627.8,387.3 L640.1,358.3 L652.4,374.5 L664.7,360.8 L677.0,374.5 L689.3,366.0 L701.6,358.3 L713.9,356.9 L726.2,353.5 L738.5,366.8 L750.8,354.0 L763.1,325.8 L775.4,346.3 L787.7,355.7 L799.9,382.2 L812.2,366.0 L824.5,366.0 L836.8,370.2 L849.1,372.0 L861.4,374.5 L873.7,366.8 L886.0,339.1 L898.3,348.5 L910.6,311.0 L922.9,335.7 L935.2,349.3 L947.5,348.5 L959.8,332.3 L972.1,303.3 L984.4,283.6 L996.7,279.7 L1009.0,250.0 L1021.3,268.3 L1033.6,273.4 L1045.9,305.0 L1058.2,315.2 L1070.5,295.6 L1082.8,305.0 L1095.1,328.0 L1107.3,329.7 L1119.6,325.4 L1131.9,311.8 L1144.2,307.5 L1156.5,299.0 L1168.8,298.0 L1181.1,317.5 L1193.4,321.8 L1205.7,336.3 L1218.0,331.2 L1230.3,325.2 L1242.6,361.9 L1254.9,367.0 L1267.2,363.6 L1279.5,344.8 L1291.8,344.0 L1304.1,332.9 L1316.4,335.5 L1328.7,339.7 L1341.0,338.0 L1353.3,338.9 L1365.6,348.3 L1377.9,348.3 L1390.2,356.8 L1402.5,351.7 L1414.7,344.8 L1427.0,354.2 L1439.3,385.0 L1451.6,373.9 L1463.9,369.6 L1476.2,369.6 L1488.5,356.4 L1500.8,352.0 L1513.1,333.0 L1525.4,366.0 L1537.7,345.9 L1550.0,345.9 L1562.3,350.3 L1574.6,346.8 L1586.9,331.9 L1599.2,340.7 L1611.5,366.9 L1623.8,348.5 L1636.1,338.0 L1648.4,357.3 L1660.7,362.6 L1673.0,371.3 L1685.3,363.4 L1697.6,362.6 L1709.9,358.2 L1722.1,356.4 L1734.4,358.2 L1746.7,371.3 L1759.0,367.8" fill="none" stroke="#6abd7b" stroke-width="3" stroke-linejoin="miter"/>
<g fill="#1a2230"><rect x="392.5" y="804.2" width="2.4" height="2.2"/><rect x="835.5" y="804.2" width="2.4" height="2.2"/><rect x="1278.3" y="804.2" width="2.4" height="2.2"/><rect x="1720.3" y="804.2" width="2.4" height="2.2"/></g>
</svg>
<div id="bar"></div>

<div class="t b" style="left:52px;top:44px;font-size:50px;letter-spacing:-1.4px;">BNB-USD</div>
<div class="t" style="left:51px;top:96px;font-size:27px;color:#2c333b;">24 Hour Chart</div>
<div class="t b" style="left:52px;top:135px;font-size:100px;letter-spacing:1.5px;">891.65</div>
<div class="t b" style="left:392px;top:198px;font-size:26.5px;letter-spacing:0.3px;">4.26%</div>
<svg width="1758" height="1080" style="pointer-events:none"><polygon points="483,226 512.5,226 497.7,202.5" fill="#62bf74"/></svg>

<div class="t b" style="left:1402px;top:16px;font-size:26px;letter-spacing:-1.2px;color:#111;-webkit-text-stroke:0.5px #111;">Powered by</div>
<svg width="1758" height="1080">
<g fill="#000" stroke="#000">
<path d="M1408.4,63.2 L1438.8,63.2 M1408.4,63.2 L1408.4,94.2 L1423.4,94.2" stroke-width="6" fill="none"/>
<circle cx="1408.4" cy="63.2" r="5.3" stroke="none"/>
<circle cx="1423.4" cy="63.2" r="5.3" stroke="none"/>
<circle cx="1438.8" cy="63.2" r="5.3" stroke="none"/>
<circle cx="1408.4" cy="79.2" r="5.3" stroke="none"/>
<circle cx="1408.4" cy="94.2" r="5.3" stroke="none"/>
<circle cx="1423.4" cy="94.2" r="5.3" stroke="none"/>
<circle cx="1423.4" cy="79.2" r="2.4" stroke="none"/>
<circle cx="1438.8" cy="79.2" r="2.4" stroke="none"/>
<circle cx="1438.8" cy="94.2" r="2.4" stroke="none"/>
</g>
</svg>
<div class="t b" style="left:1449px;top:60px;font-size:39px;letter-spacing:-0.9px;color:#000;-webkit-text-stroke:0.7px #000;">CoinDesk<span style="margin-left:5px">Data</span></div>
<div class="t" style="left:1402px;top:114px;font-size:26.6px;color:#9b9b9b;">27 Nov 2025 12:34 (GMT)</div>

<div class="st sv" style="left:1060px;top:155px;">855.25</div>
<div class="st sl" style="left:1060px;top:196px;">Open</div>
<div class="st sv" style="left:1194px;top:155px;">902.66</div>
<div class="st sl" style="left:1194px;top:196px;">High</div>
<div class="st sv" style="left:1327px;top:155px;">855.25</div>
<div class="st sl" style="left:1327px;top:196px;">Low</div>
<div class="st sv" style="left:1461px;top:155px;">3.45 K</div>
<div class="st sl" style="left:1461px;top:196px;">Vol</div>
<div class="st sv" style="left:1593px;top:155px;">3.06 M</div>
<div class="st sl" style="left:1594px;top:196px;letter-spacing:-1px;">Vol USD</div>

<div class="yl" style="right:51px;top:267px;">900.00</div>
<div class="yl" style="right:51px;top:478px;">880.00</div>
<div class="yl" style="right:51px;top:690px;">860.00</div>
<div class="yl" style="right:51px;top:802px;color:#8a9a8c;font-size:26px;">200</div>

<div class="xl" style="left:345px;top:835px;">18:00</div>
<div class="xl" style="left:787px;top:835px;">00:00</div>
<div class="xl" style="left:1230px;top:835px;">06:00</div>
<div class="xl" style="left:1673px;top:835px;">12:00</div>
</body></html>
